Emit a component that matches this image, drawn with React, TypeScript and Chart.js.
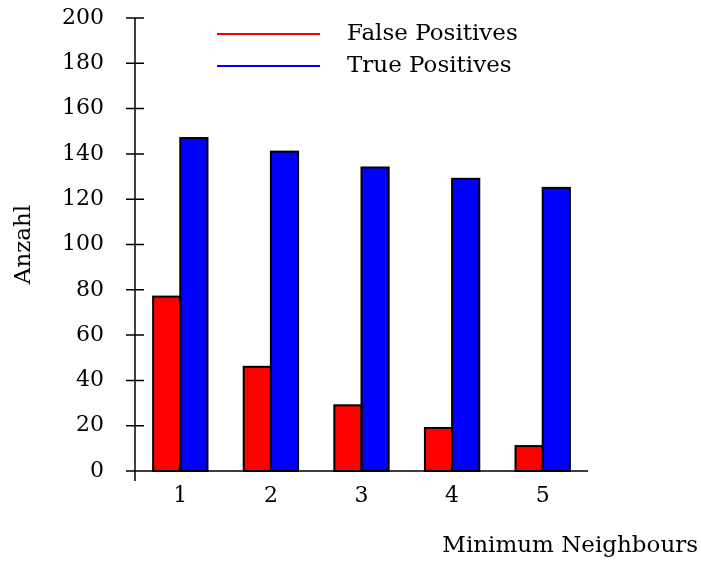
import React, { useEffect, useRef } from "react";
import { Chart, registerables } from "chart.js";

Chart.register(...registerables);

const categories = ["1", "2", "3", "4", "5"];
const falsePositives = [77, 46, 29, 19, 11];
const truePositives = [147, 141, 134, 129, 125];
const yMin = 0;
const yMax = 200;
const yStep = 20;
const xTitle = "Minimum Neighbours";
const yTitle = "Anzahl";
const FONT = "'DejaVu Serif', serif";
const FS = 22;
const FS_TEXT = 23;

const overlay = {
  id: "overlay",
  afterDatasetsDraw(chart: any) {
    const { ctx } = chart;
    ctx.save();
    ctx.strokeStyle = "#000";
    ctx.lineWidth = 2;
    ctx.lineJoin = "miter";
    chart.data.datasets.forEach((_: any, i: number) => {
      const meta = chart.getDatasetMeta(i);
      meta.data.forEach((bar: any) => {
        const { x, y, width, base } = bar.getProps(["x", "y", "width", "base"], true);
        ctx.strokeRect(x - width / 2, y, width, base - y);
      });
    });
    ctx.restore();
  },
  afterDraw(chart: any) {
    const { ctx, chartArea } = chart;
    const ys = chart.scales.y;
    ctx.save();
    ctx.strokeStyle = "#000";
    ctx.lineWidth = 1.5;
    const x0 = chartArea.left;
    const y0 = ys.getPixelForValue(0);
    ctx.beginPath();
    ctx.moveTo(x0, ys.getPixelForValue(yMax));
    ctx.lineTo(x0, y0 + 10);
    ctx.moveTo(x0, y0);
    ctx.lineTo(chartArea.right, y0);
    ys.ticks.forEach((t: any) => {
      const y = ys.getPixelForValue(t.value);
      ctx.moveTo(x0 - 9, y);
      ctx.lineTo(x0 + 9, y);
    });
    ctx.stroke();

    // legend
    ctx.font = `${FS_TEXT}px ${FONT}`;
    ctx.textBaseline = "middle";
    ctx.textAlign = "left";
    chart.data.datasets.forEach((ds: any, i: number) => {
      const y = 34 + i * 32;
      ctx.strokeStyle = ds.backgroundColor;
      ctx.lineWidth = 2;
      ctx.beginPath();
      ctx.moveTo(217, y);
      ctx.lineTo(320, y);
      ctx.stroke();
      ctx.fillStyle = "#000";
      ctx.fillText(ds.label, 347, y);
    });

    // axis titles
    ctx.fillStyle = "#000";
    ctx.textAlign = "right";
    ctx.textBaseline = "middle";
    ctx.fillText(xTitle, 698, 546);
    ctx.save();
    ctx.translate(24, (chartArea.top + chartArea.bottom) / 2);
    ctx.rotate(-Math.PI / 2);
    ctx.textAlign = "center";
    ctx.fillText(yTitle, 0, 0);
    ctx.restore();
    ctx.restore();
  },
};

export default function App() {
  const ref = useRef<HTMLCanvasElement>(null);
  useEffect(() => {
    const chart = new Chart(ref.current!, {
      type: "bar",
      data: {
        labels: categories,
        datasets: [
          {
            label: "False Positives",
            data: falsePositives,
            backgroundColor: "#ff0000",
            borderWidth: 0,
          },
          {
            label: "True Positives",
            data: truePositives,
            backgroundColor: "#0000ff",
            borderWidth: 0,
          },
        ],
      },
      options: {
        animation: false,
        responsive: false,
        maintainAspectRatio: false,
        layout: { padding: { left: 0, right: 113, top: 18, bottom: 0 } },
        plugins: { legend: { display: false }, tooltip: { enabled: false } },
        datasets: { bar: { barPercentage: 1, categoryPercentage: 0.6, inflateAmount: 0 } },
        scales: {
          x: {
            type: "category",
            offset: true,
            grid: { display: false },
            border: { display: false },
            ticks: { color: "#000", font: { family: FONT, size: FS }, padding: 4 },
            afterFit: (s: any) => {
              s.height = 94;
              s.paddingLeft = 0;
              s.paddingRight = 0;
            },
          },
          y: {
            min: yMin,
            max: yMax,
            grid: { display: false },
            border: { display: false },
            ticks: { stepSize: yStep, color: "#000", font: { family: FONT, size: FS }, padding: 23 },
            afterFit: (s: any) => {
              s.width = 135;
              s.paddingTop = 0;
              s.paddingBottom = 0;
            },
          },
        },
      },
      plugins: [overlay],
    });
    return () => chart.destroy();
  }, []);
  return (
    <div style={{ position: "fixed", left: 0, top: 0, width: 701, height: 565, background: "#fff" }}>
      <canvas ref={ref} width={701} height={565} />
    </div>
  );
}
